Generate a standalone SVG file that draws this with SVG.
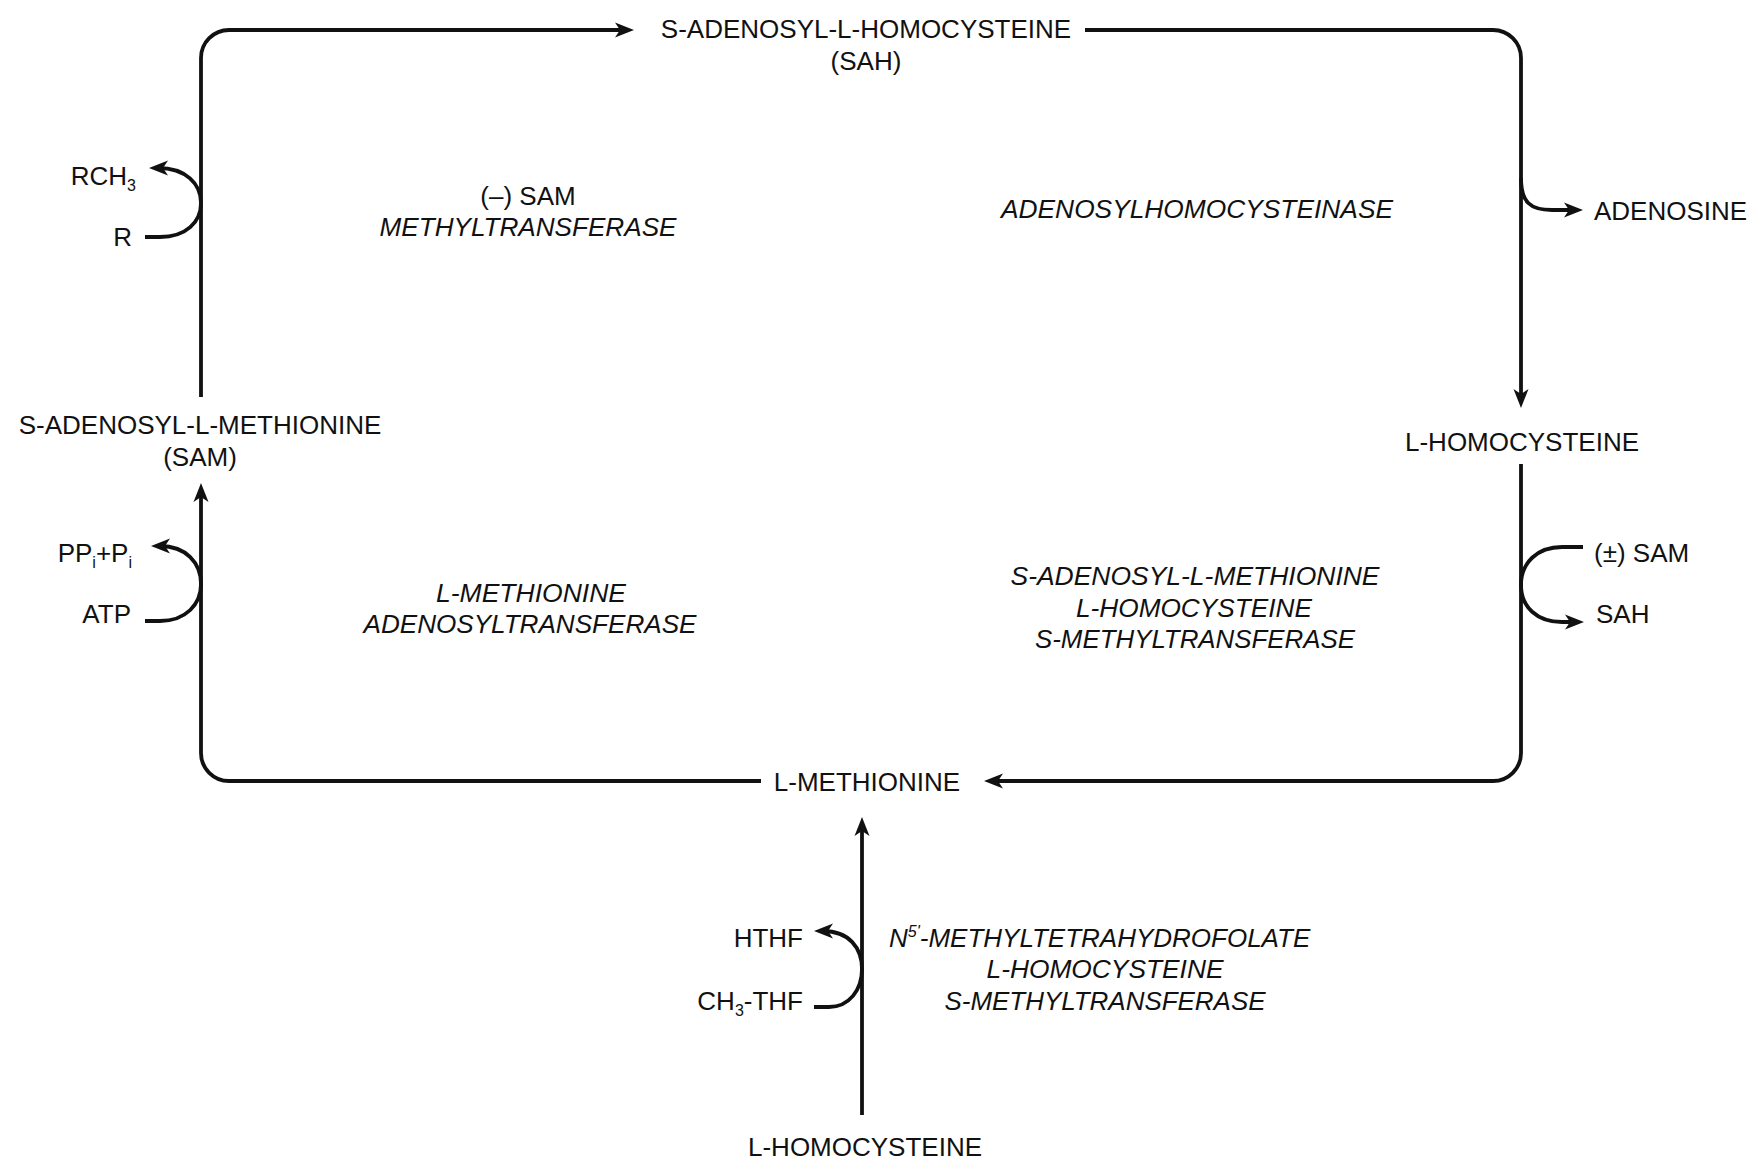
<svg xmlns="http://www.w3.org/2000/svg" width="1754" height="1168" viewBox="0 0 1754 1168">
<style>
  text { font-family: "Liberation Sans", Arial, sans-serif; font-size: 26px; fill: #111; }
  .c { text-anchor: middle; }
  .e { text-anchor: end; }
  .i { font-style: italic; }
  .sub { font-size: 16px; }
  .ln { fill: none; stroke: #111; stroke-width: 3.8; stroke-linecap: butt; stroke-linejoin: round; }
</style>
<defs>
  <marker id="ah" viewBox="-12 -9 22 18" refX="0" refY="0" markerWidth="22" markerHeight="18" orient="auto" markerUnits="userSpaceOnUse">
    <path d="M9,0 L-10,-7.5 L-5,0 L-10,7.5 Z" fill="#111"/>
  </marker>
</defs>
<rect width="1754" height="1168" fill="#fff"/>

<g id="connectors">
  <path class="ln" d="M201,397 L201,58 A28,28 0 0 1 229,30 L625,30" marker-end="url(#ah)"/>
  <path class="ln" d="M1085,30 L1493,30 A28,28 0 0 1 1521,58 L1521,399" marker-end="url(#ah)"/>
  <path class="ln" d="M1521,464 L1521,753 A28,28 0 0 1 1493,781 L993,781" marker-end="url(#ah)"/>
  <path class="ln" d="M761,781 L229,781 A28,28 0 0 1 201,753 L201,492" marker-end="url(#ah)"/>
  <path class="ln" d="M862,1115 L862,826" marker-end="url(#ah)"/>
  <path class="ln" d="M145,237 L160,237 C186,237 201,222 201,203 C201,184 186,168 158,168" marker-end="url(#ah)"/>
  <path class="ln" d="M145,621 L160,621 C186,621 201,604 201,584 C201,563 186,546 160,546" marker-end="url(#ah)"/>
  <path class="ln" d="M1521,178 C1521,202 1530,210 1552,210 L1574,210" marker-end="url(#ah)"/>
  <path class="ln" d="M1583,547 L1562,547 C1537,547 1521,563 1521,585 C1521,607 1537,622 1562,622 L1575,622" marker-end="url(#ah)"/>
  <path class="ln" d="M814,1007 L829,1007 C849,1007 862,990 862,969 C862,948 849,931 823,931" marker-end="url(#ah)"/>
</g>

<g id="sah">
  <text class="c" x="866" y="38">S-ADENOSYL-L-HOMOCYSTEINE</text>
  <text class="c" x="866" y="70">(SAH)</text>
</g>
<g id="sam">
  <text class="c" x="200" y="434">S-ADENOSYL-L-METHIONINE</text>
  <text class="c" x="200" y="466">(SAM)</text>
</g>
<g id="hcy-right">
  <text class="c" x="1522" y="451">L-HOMOCYSTEINE</text>
</g>
<g id="met">
  <text class="c" x="867" y="791">L-METHIONINE</text>
</g>
<g id="hcy-bottom">
  <text class="c" x="865" y="1156">L-HOMOCYSTEINE</text>
</g>
<g id="adenosine">
  <text x="1594" y="220">ADENOSINE</text>
</g>
<g id="rch3">
  <text class="e" x="136" y="185">RCH<tspan class="sub" dy="6">3</tspan></text>
</g>
<g id="r">
  <text class="e" x="132" y="246">R</text>
</g>
<g id="ppi">
  <text class="e" x="132" y="562">PP<tspan class="sub" dy="6">i</tspan><tspan dy="-6">+P</tspan><tspan class="sub" dy="6">i</tspan></text>
</g>
<g id="atp">
  <text class="e" x="131" y="623">ATP</text>
</g>
<g id="sam-pm">
  <text x="1594" y="562">(±) SAM</text>
</g>
<g id="sah-out">
  <text x="1596" y="623">SAH</text>
</g>
<g id="hthf">
  <text class="e" x="803" y="947">HTHF</text>
</g>
<g id="ch3thf">
  <text class="e" x="803" y="1010">CH<tspan class="sub" dy="6">3</tspan><tspan dy="-6">-THF</tspan></text>
</g>

<g id="enz-methyltransferase">
  <text class="c" x="528" y="205">(–) SAM</text>
  <text class="c i" x="528" y="236" textLength="297" lengthAdjust="spacingAndGlyphs">METHYLTRANSFERASE</text>
</g>
<g id="enz-adenosylhomocysteinase">
  <text class="c i" x="1197" y="218" textLength="392" lengthAdjust="spacingAndGlyphs">ADENOSYLHOMOCYSTEINASE</text>
</g>
<g id="enz-mat">
  <text class="c i" x="531" y="602" textLength="190" lengthAdjust="spacingAndGlyphs">L-METHIONINE</text>
  <text class="c i" x="530" y="633" textLength="333" lengthAdjust="spacingAndGlyphs">ADENOSYLTRANSFERASE</text>
</g>
<g id="enz-sam-hcy">
  <text class="c i" x="1195" y="585" textLength="369" lengthAdjust="spacingAndGlyphs">S-ADENOSYL-L-METHIONINE</text>
  <text class="c i" x="1194" y="617" textLength="236" lengthAdjust="spacingAndGlyphs">L-HOMOCYSTEINE</text>
  <text class="c i" x="1195" y="648" textLength="320" lengthAdjust="spacingAndGlyphs">S-METHYLTRANSFERASE</text>
</g>
<g id="enz-mthf-hcy">
  <text class="i" x="889" y="947">N<tspan class="sub" dy="-10">5'</tspan><tspan dy="10">-METHYLTETRAHYDROFOLATE</tspan></text>
  <text class="c i" x="1105" y="978" textLength="237" lengthAdjust="spacingAndGlyphs">L-HOMOCYSTEINE</text>
  <text class="c i" x="1105" y="1010" textLength="321" lengthAdjust="spacingAndGlyphs">S-METHYLTRANSFERASE</text>
</g>
</svg>
